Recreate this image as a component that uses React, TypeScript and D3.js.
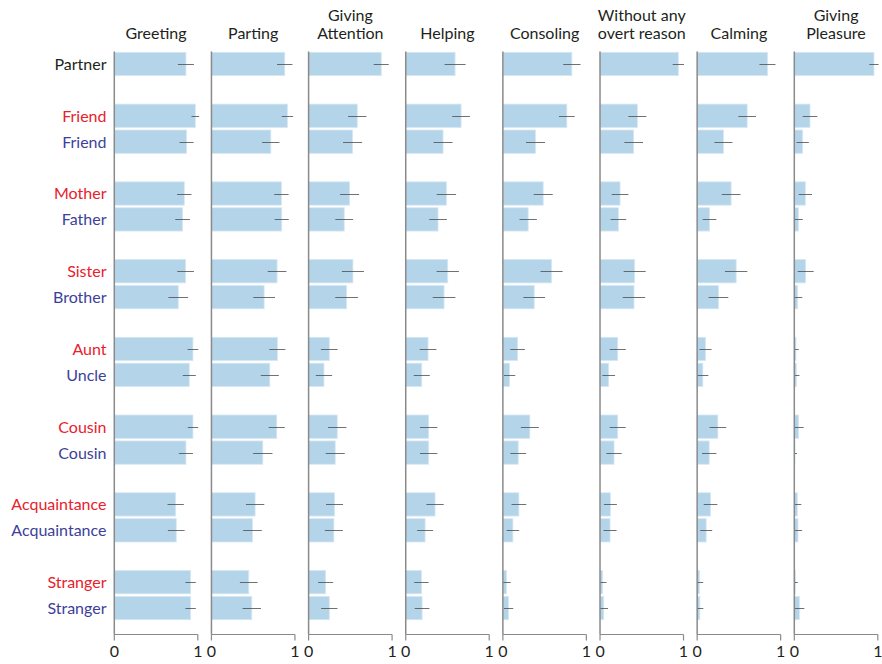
import React from "react";
import * as d3 from "d3";

const panels = [
  ["Greeting"],
  ["Parting"],
  ["Giving", "Attention"],
  ["Helping"],
  ["Consoling"],
  ["Without any", "overt reason"],
  ["Calming"],
  ["Giving", "Pleasure"],
];

const rowLabels = ["Partner", "Friend", "Friend", "Mother", "Father", "Sister", "Brother", "Aunt", "Uncle", "Cousin", "Cousin", "Acquaintance", "Acquaintance", "Stranger", "Stranger"];
const rowKinds = ["n", "f", "m", "f", "m", "f", "m", "f", "m", "f", "m", "f", "m", "f", "m"];
const rowSlots = [0, 2, 3, 5, 6, 8, 9, 11, 12, 14, 15, 17, 18, 20, 21];
const slotCount = 22;

const greeting = [0.858, 0.970, 0.866, 0.838, 0.818, 0.854, 0.766, 0.942, 0.898, 0.942, 0.858, 0.735, 0.742, 0.914, 0.914];
const greetingErr = [0.096, 0.046, 0.084, 0.086, 0.088, 0.10, 0.118, 0.064, 0.078, 0.062, 0.084, 0.098, 0.10, 0.062, 0.062];
const parting = [0.878, 0.910, 0.711, 0.838, 0.842, 0.786, 0.631, 0.790, 0.699, 0.782, 0.615, 0.523, 0.491, 0.447, 0.483];
const partingErr = [0.092, 0.068, 0.104, 0.086, 0.084, 0.112, 0.13, 0.096, 0.108, 0.096, 0.116, 0.11, 0.112, 0.106, 0.11];
const attention = [0.870, 0.583, 0.527, 0.491, 0.427, 0.531, 0.455, 0.248, 0.184, 0.343, 0.319, 0.311, 0.303, 0.204, 0.248];
const attentionErr = [0.09, 0.11, 0.114, 0.114, 0.106, 0.132, 0.136, 0.10, 0.098, 0.11, 0.114, 0.102, 0.108, 0.09, 0.098];
const helping = [0.591, 0.663, 0.447, 0.487, 0.387, 0.503, 0.459, 0.267, 0.192, 0.275, 0.275, 0.351, 0.232, 0.188, 0.196];
const helpingErr = [0.126, 0.106, 0.114, 0.116, 0.106, 0.134, 0.136, 0.10, 0.096, 0.104, 0.104, 0.104, 0.096, 0.086, 0.088];
const consoling = [0.826, 0.766, 0.391, 0.483, 0.303, 0.583, 0.375, 0.176, 0.08, 0.323, 0.184, 0.192, 0.12, 0.044, 0.068];
const consolingErr = [0.104, 0.094, 0.114, 0.114, 0.104, 0.132, 0.13, 0.088, 0.068, 0.108, 0.094, 0.088, 0.076, 0.05, 0.056];
const withoutReason = [0.938, 0.447, 0.403, 0.24, 0.22, 0.415, 0.407, 0.212, 0.104, 0.212, 0.168, 0.124, 0.12, 0.032, 0.044];
const withoutReasonErr = [0.068, 0.108, 0.112, 0.10, 0.094, 0.132, 0.134, 0.096, 0.076, 0.096, 0.092, 0.078, 0.078, 0.046, 0.052];
const calming = [0.842, 0.599, 0.315, 0.407, 0.148, 0.467, 0.255, 0.10, 0.068, 0.248, 0.144, 0.16, 0.108, 0.028, 0.032];
const calmingErr = [0.096, 0.106, 0.108, 0.112, 0.082, 0.134, 0.118, 0.072, 0.066, 0.10, 0.086, 0.082, 0.072, 0.044, 0.042];
const pleasure = [0.954, 0.188, 0.10, 0.132, 0.048, 0.136, 0.04, 0.02, 0.024, 0.052, 0.008, 0.036, 0.044, 0.012, 0.06];
const pleasureErr = [0.056, 0.088, 0.074, 0.08, 0.054, 0.096, 0.056, 0.034, 0.038, 0.06, 0.024, 0.048, 0.05, 0.03, 0.06];

const seriesValues = [greeting, parting, attention, helping, consoling, withoutReason, calming, pleasure];
const seriesErrors = [greetingErr, partingErr, attentionErr, helpingErr, consolingErr, withoutReasonErr, calmingErr, pleasureErr];
const tickValues = [0, 1];

const W = 882;
const H = 664;
const FONT = "Lato, 'Open Sans', sans-serif";
const kindColor: Record<string, string> = { n: "#231f20", f: "#e8212b", m: "#3d3f9a" };

export default function App() {
  const panelScale = d3
    .scaleBand<number>()
    .domain(d3.range(panels.length))
    .range([114.3, 877.8])
    .paddingInner(0.1405)
    .paddingOuter(0);
  const pw = panelScale.bandwidth();
  const yScale = d3
    .scaleBand<number>()
    .domain(d3.range(slotCount))
    .range([51, 621])
    .paddingInner(0.1)
    .paddingOuter(0.05);
  const bh = yScale.bandwidth();
  const axisY = 634.5;
  const axisTop = 51.5;

  return (
    <svg width={W} height={H} style={{ position: "absolute", left: 0, top: 0 }} fontFamily={FONT}>
      {rowLabels.map((lab, i) => (
        <text
          key={"rl" + i}
          x={106.5}
          y={(yScale(rowSlots[i]) as number) + bh / 2}
          dy="0.37em"
          textAnchor="end"
          fontSize={16}
          fill={kindColor[rowKinds[i]]}
        >
          {lab}
        </text>
      ))}
      {panels.map((title, p) => {
        const x0 = panelScale(p) as number;
        const x = d3.scaleLinear().domain([0, 1]).range([x0, x0 + pw]);
        const vals = seriesValues[p];
        const errs = seriesErrors[p];
        const cx = x0 + pw / 2;
        return (
          <g key={"p" + p}>
            {title.map((t, k) => (
              <text
                key={k}
                x={cx}
                y={title.length === 1 ? 39 : 20.5 + k * 18.5}
                textAnchor="middle"
                fontSize={16}
                fill="#231f20"
              >
                {t}
              </text>
            ))}
            {vals.map((v, i) => {
              const yTop = yScale(rowSlots[i]) as number;
              return (
                <rect
                  key={"b" + i}
                  x={x(0)}
                  y={yTop}
                  width={Math.max(0, x(v) - x(0))}
                  height={bh}
                  fill="#b4d4e9"
                  stroke="#d6e8f3"
                  strokeWidth={0.8}
                />
              );
            })}
            {vals.map((v, i) => {
              const yc = Math.round((yScale(rowSlots[i]) as number) + bh / 2) + 0.5;
              const lo = Math.max(0, v - errs[i]);
              const hi = Math.min(1.02, v + errs[i]);
              return (
                <line
                  key={"e" + i}
                  x1={x(lo)}
                  x2={x(hi)}
                  y1={yc}
                  y2={yc}
                  stroke="#4d4d4d"
                  strokeOpacity={0.8}
                  strokeWidth={1}
                />
              );
            })}
            <line x1={x(0)} x2={x(0)} y1={axisTop} y2={axisY} stroke="#8a8a8a" strokeWidth={1.5} />
            <line x1={x(0)} x2={x(1)} y1={axisY} y2={axisY} stroke="#8a8a8a" strokeWidth={1.2} />
            {tickValues.map((t) => (
              <g key={"t" + t}>
                <line x1={x(t)} x2={x(t)} y1={axisY} y2={axisY + 6} stroke="#8a8a8a" strokeWidth={1.2} />
                <text x={x(t)} y={657} textAnchor="middle" fontSize={16} fill="#231f20">
                  {String(t)}
                </text>
              </g>
            ))}
          </g>
        );
      })}
    </svg>
  );
}
